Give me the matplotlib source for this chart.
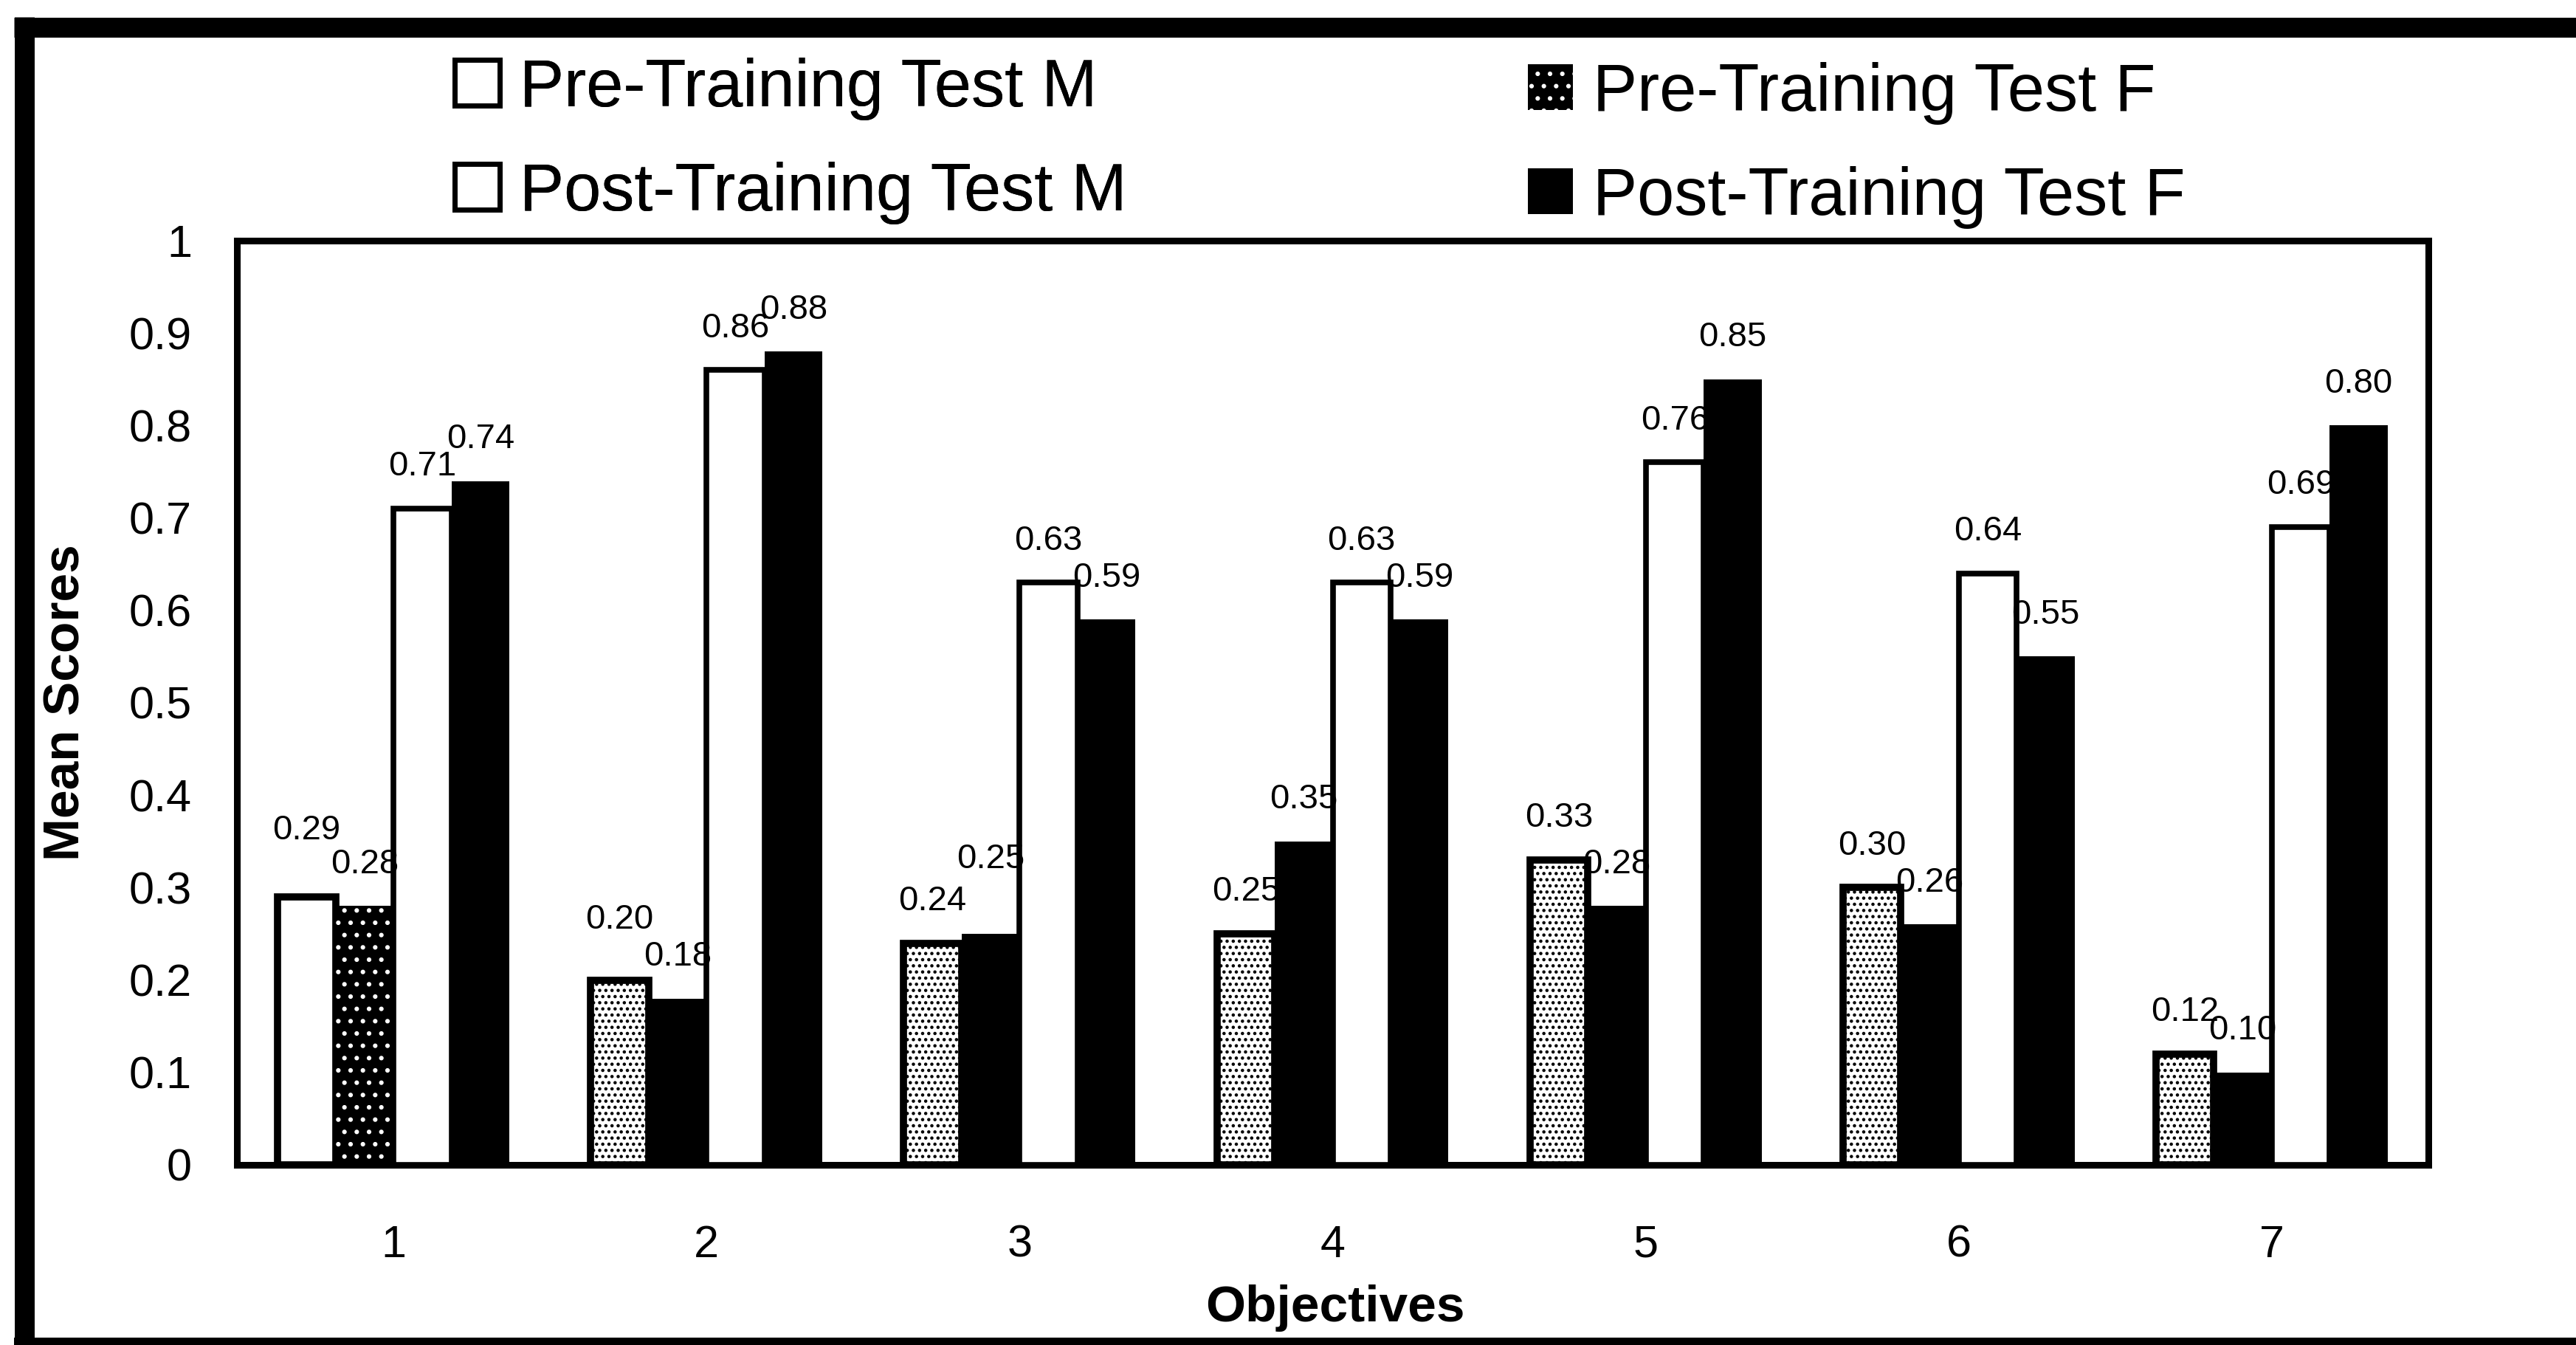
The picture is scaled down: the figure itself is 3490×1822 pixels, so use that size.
import numpy as np
import matplotlib.pyplot as plt
from matplotlib.patches import Patch
from matplotlib.lines import Line2D

# Mean scores per objective
objectives = ['1', '2', '3', '4', '5', '6', '7']
pre_m = [0.29, 0.20, 0.24, 0.25, 0.33, 0.30, 0.12]
pre_f = [0.28, 0.18, 0.25, 0.35, 0.28, 0.26, 0.10]
post_m = [0.71, 0.86, 0.63, 0.63, 0.76, 0.64, 0.69]
post_f = [0.74, 0.88, 0.59, 0.59, 0.85, 0.55, 0.80]
series_names = ['Pre-Training Test M', 'Pre-Training Test F',
                'Post-Training Test M', 'Post-Training Test F']
y_ticks = [0, 0.1, 0.2, 0.3, 0.4, 0.5, 0.6, 0.7, 0.8, 0.9, 1]
y_tick_labels = ['0', '0.1', '0.2', '0.3', '0.4', '0.5', '0.6', '0.7', '0.8', '0.9', '1']

plt.rcParams['font.family'] = ['Liberation Sans', 'DejaVu Sans']
plt.rcParams['hatch.linewidth'] = 2.0

W, H = 3490, 1822
fig = plt.figure(figsize=(W / 100, H / 100), dpi=100)
ax = fig.add_axes([321 / W, 1 - 1578 / H, (3290 - 321) / W, (1578 - 326) / H])

x = np.arange(1, len(objectives) + 1)
w = 0.185

# pre-training male: plain for objective 1, stippled for the rest
pre_m_hatch = [''] + ['..'] * (len(objectives) - 1)
for xi, v, h in zip(x - 1.5 * w, pre_m, pre_m_hatch):
    ax.bar(xi, v, w, facecolor='white', edgecolor='black', linewidth=7, hatch=h, zorder=2)

# pre-training female: speckled dark for objective 1, black for the rest
pre_f_hatch = ['.'] + [''] * (len(objectives) - 1)
for xi, v, h in zip(x - 0.5 * w, pre_f, pre_f_hatch):
    ax.bar(xi, v, w, facecolor='black', edgecolor='white', linewidth=0, hatch=h, zorder=3)

ax.bar(x + 0.5 * w, post_m, w, facecolor='white', edgecolor='black', linewidth=5.5, zorder=4)
ax.bar(x + 1.5 * w, post_f, w, facecolor='black', edgecolor='black', linewidth=0, zorder=5)

# value labels above each bar; a few are lifted so neighbours don't collide
lift = {(0, 0): 24, (0, 1): 18, (1, 2): 32}
for si, (offs, vals) in enumerate(zip([-1.5, -0.5, 0.5, 1.5], [pre_m, pre_f, post_m, post_f])):
    for gi, (xi, v) in enumerate(zip(x + offs * w, vals)):
        ax.annotate(f'{v:.2f}', (xi, v), xytext=(0, 25 + lift.get((si, gi), 0)),
                    textcoords='offset points', ha='center', va='bottom',
                    fontsize=34, zorder=6)

ax.set_xlim(0.5, len(objectives) + 0.5)
ax.set_ylim(0, 1)
ax.set_xticks(x)
ax.set_xticklabels(objectives, fontsize=44)
ax.set_yticks(y_ticks)
ax.set_yticklabels(y_tick_labels, fontsize=44)
ax.tick_params(axis='x', length=0, pad=58)
ax.tick_params(axis='y', length=0, pad=44)
for side in ['left', 'right', 'top', 'bottom']:
    ax.spines[side].set_linewidth(6.5)

fig.text(1809 / W, 1 - 1790 / H, 'Objectives', ha='center', va='baseline',
         fontsize=50, fontweight='bold')
fig.text(90 / W, 1 - 952 / H, 'Mean Scores', ha='center', va='center', rotation=90,
         fontsize=50, fontweight='bold')

# legend, two columns placed separately
h_pre_m = Patch(facecolor='white', edgecolor='black', linewidth=5)
h_pre_f = Patch(facecolor='black', edgecolor='white', linewidth=0, hatch='.')
h_post_m = Patch(facecolor='white', edgecolor='black', linewidth=5)
h_post_f = Patch(facecolor='black', edgecolor='black', linewidth=0)
leg_kw = dict(loc='upper left', frameon=False, fontsize=65, handlelength=0.68,
              handleheight=0.68, handletextpad=0.3, labelspacing=0.62,
              borderpad=0, borderaxespad=0)
leg1 = fig.legend([h_pre_m, h_post_m], [series_names[0], series_names[2]],
                  bbox_to_anchor=(616 / W, 1 - 78 / H), **leg_kw)
fig.legend([h_pre_f, h_post_f], [series_names[1], series_names[3]],
           bbox_to_anchor=(2070 / W, 1 - 84 / H), **leg_kw)
fig.add_artist(leg1)

# outer frame
fig.add_artist(Line2D([19 / W, 1], [1 - 36.5 / H] * 2, transform=fig.transFigure,
                      color='black', lw=19.4, solid_capstyle='butt'))
fig.add_artist(Line2D([32.5 / W] * 2, [0, 1 - 23 / H], transform=fig.transFigure,
                      color='black', lw=19.4, solid_capstyle='butt'))
fig.add_artist(Line2D([19 / W, 1], [1 - 1817 / H] * 2, transform=fig.transFigure,
                      color='black', lw=7.2, solid_capstyle='butt'))

fig.savefig('out.png', dpi=100, facecolor='white')
